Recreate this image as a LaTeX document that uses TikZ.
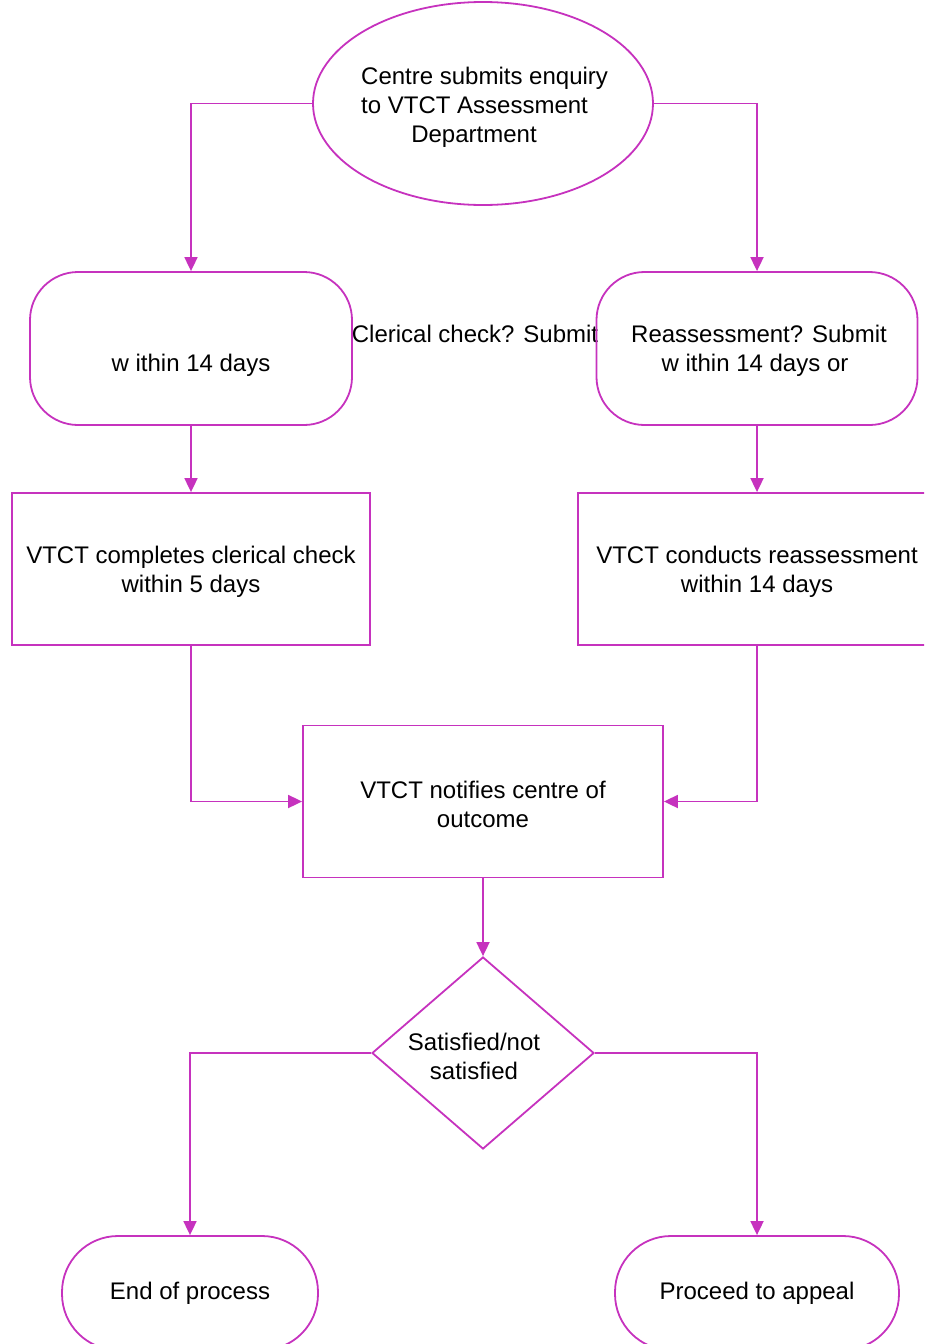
\documentclass[tikz,border=0pt]{standalone}
\usepackage{fontspec}
\setmainfont{Liberation Sans}
\usetikzlibrary{shapes.geometric,arrows.meta}
\definecolor{mag}{RGB}{198,50,190}
\begin{document}
\begin{tikzpicture}[x=1pt,y=-1pt,
  every node/.style={font=\fontsize{24}{29}\selectfont, text=black, inner sep=0pt},
  ln/.style={draw=mag, line width=1.8pt},
  arr/.style={ln, -{Triangle[length=14pt,width=13pt]}},
  rbox/.style={ln, rectangle, rounded corners=48pt, minimum width=#1, minimum height=153pt},
  sbox/.style={ln, rectangle, minimum width=#1, minimum height=152pt},
  lbl/.style={align=center},
  ebox/.style={ln, rectangle, rounded corners=56pt, minimum width=#1, minimum height=114pt}]
\useasboundingbox (0,0) rectangle (924,1344);
\clip (0,0) rectangle (924,1344);
% start ellipse
\node[ln, ellipse, minimum width=340pt, minimum height=203pt] (ell) at (483,103.5) {};
\node[anchor=base west] (e1) at (361,84) {Centre submits enquiry};
\node[anchor=base west] (e2) at (361,113) {to VTCT Assessment};
\node[anchor=base] (e3) at (474,142) {Department};
% rounded boxes
\node[rbox=322pt] (lrr) at (191,348.5) {};
\node[anchor=base] (lrrt) at (191,371) {w ithin 14 days};
\node[anchor=base] (clt) at (475,342) {Clerical check? Submit};
\node[rbox=321pt] (rrr) at (757,348.5) {};
\node[anchor=base] (rrt1) at (759,342) {Reassessment? Submit};
\node[anchor=base] (rrt2) at (755,371) {w ithin 14 days or};
% process boxes
\node[sbox=358pt] (lrect) at (191,569) {};
\node[lbl] (lrectt) at (191,572) {VTCT completes clerical check\\within 5 days};
\node[sbox=358pt] (rrect) at (757,569) {};
\node[lbl] (rrectt) at (757,572) {VTCT conducts reassessment\\within 14 days};
\node[sbox=360pt] (mid) at (483,801.5) {};
\node[lbl] (midt) at (483,804) {VTCT notifies centre of\\outcome};
% decision
\node[ln, diamond, minimum width=222pt, minimum height=192pt] (dia) at (483,1053) {};
\node[lbl] (diat) at (474,1056) {Satisfied/not\\satisfied};
% ends
\node[ebox=256pt] (lend) at (190,1293) {End of process};
\node[ebox=284pt] (rend) at (757,1293) {Proceed to appeal};
% connectors
\draw[arr] (ell.west) -| (lrr.north);
\draw[arr] (ell.east) -| (rrr.north);
\draw[arr] (lrr.south) -- (lrect.north);
\draw[arr] (rrr.south) -- (rrect.north);
\draw[arr] (lrect.south) |- (mid.west);
\draw[arr] (rrect.south) |- (mid.east);
\draw[arr] (mid.south) -- (dia.north);
\draw[arr] (dia.west) -| (lend.north);
\draw[arr] (dia.east) -| (rend.north);
\end{tikzpicture}
\end{document}
